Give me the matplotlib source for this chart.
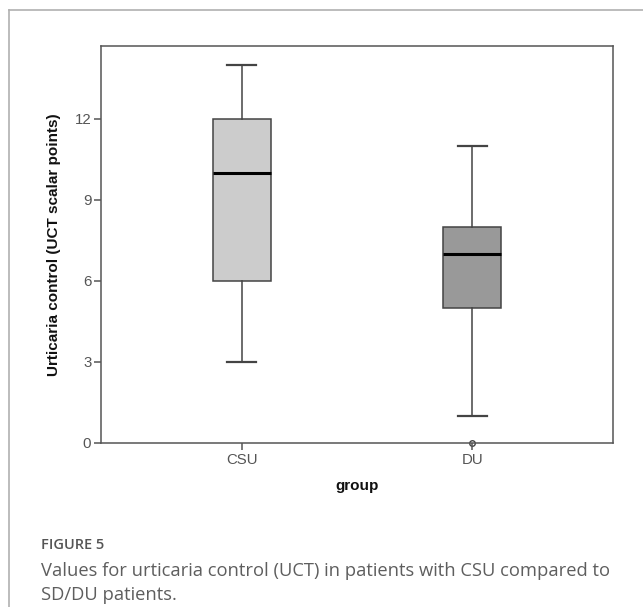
#!/usr/bin/env python3

import matplotlib

matplotlib.use("Agg")
import matplotlib.pyplot as plt
from matplotlib.lines import Line2D

# Données (score UCT)
groups = ["CSU", "DU"]
whisker_low = [3, 1]
q1 = [6, 5]
medians = [10, 7]
q3 = [12, 8]
whisker_high = [14, 11]
outliers = [[], [0]]
box_colors = ["#cccccc", "#999999"]

yticks = [0, 3, 6, 9, 12]

W, H = 643, 607
fig = plt.figure(figsize=(W / 100, H / 100), dpi=100)
fig.patch.set_facecolor("white")


def fx(px):
    return px / W


def fy(py):
    return 1 - py / H


ax = fig.add_axes([fx(101), fy(443), fx(613) - fx(101), fy(46) - fy(443)])

stats = []
for i, g in enumerate(groups):
    stats.append(
        {
            "label": g,
            "whislo": whisker_low[i],
            "q1": q1[i],
            "med": medians[i],
            "q3": q3[i],
            "whishi": whisker_high[i],
            "fliers": outliers[i],
        }
    )

edge = "#444444"
bp = ax.bxp(
    stats,
    positions=[1, 2],
    widths=0.252,
    patch_artist=True,
    boxprops=dict(edgecolor=edge, linewidth=1.1),
    whiskerprops=dict(color=edge, linewidth=1.1),
    capprops=dict(color=edge, linewidth=1.6),
    medianprops=dict(color="black", linewidth=2.2),
    flierprops=dict(marker="o", markersize=4, markerfacecolor="white",
                    markeredgecolor=edge, markeredgewidth=1.0),
    capwidths=0.125,
    zorder=3,
)
for patch, c in zip(bp["boxes"], box_colors):
    patch.set_facecolor(c)
for fl in bp["fliers"]:
    fl.set_clip_on(False)
    fl.set_zorder(1)

ax.set_xlim(0.389, 2.611)
ax.set_ylim(0, 14.7)
ax.set_yticks(yticks)
ax.set_xticks([1, 2])
ax.set_xticklabels(groups)

for s in ax.spines.values():
    s.set_color("#555555")
    s.set_linewidth(1.1)

ax.tick_params(axis="both", direction="out", length=5, width=1.1,
               color="#555555", labelcolor="#555555", labelsize=10.8, pad=2)
for lab in ax.get_xticklabels() + ax.get_yticklabels():
    lab.set_family("Liberation Sans")

ax.set_ylabel("Urticaria control (UCT scalar points)", family="Liberation Sans",
              fontweight="bold", fontsize=11, labelpad=10, color="#111111")
ax.set_xlabel("group", family="Liberation Sans", fontweight="bold",
              fontsize=11, labelpad=9, color="#111111")

# Cadre de la figure (style revue)
frame = "#b0b0b0"
fig.add_artist(Line2D([fx(9), 1], [fy(10), fy(10)], color=frame, lw=1.2,
                      transform=fig.transFigure))
fig.add_artist(Line2D([fx(9), fx(9)], [fy(10), 0], color=frame, lw=1.2,
                      transform=fig.transFigure))

# Légende de la figure
fig.text(fx(41), fy(545), "FIGURE 5", family="Open Sans", fontsize=10.5,
         fontweight="semibold", color="#555555", va="center", ha="left")
fig.text(fx(41), fy(571),
         "Values for urticaria control (UCT) in patients with CSU compared to",
         family="Open Sans", fontsize=13.2, color="#5e5e5e", va="center",
         ha="left")
fig.text(fx(41), fy(595), "SD/DU patients.", family="Open Sans",
         fontsize=13.2, color="#5e5e5e", va="center", ha="left")

plt.savefig("out.png", dpi=100)
